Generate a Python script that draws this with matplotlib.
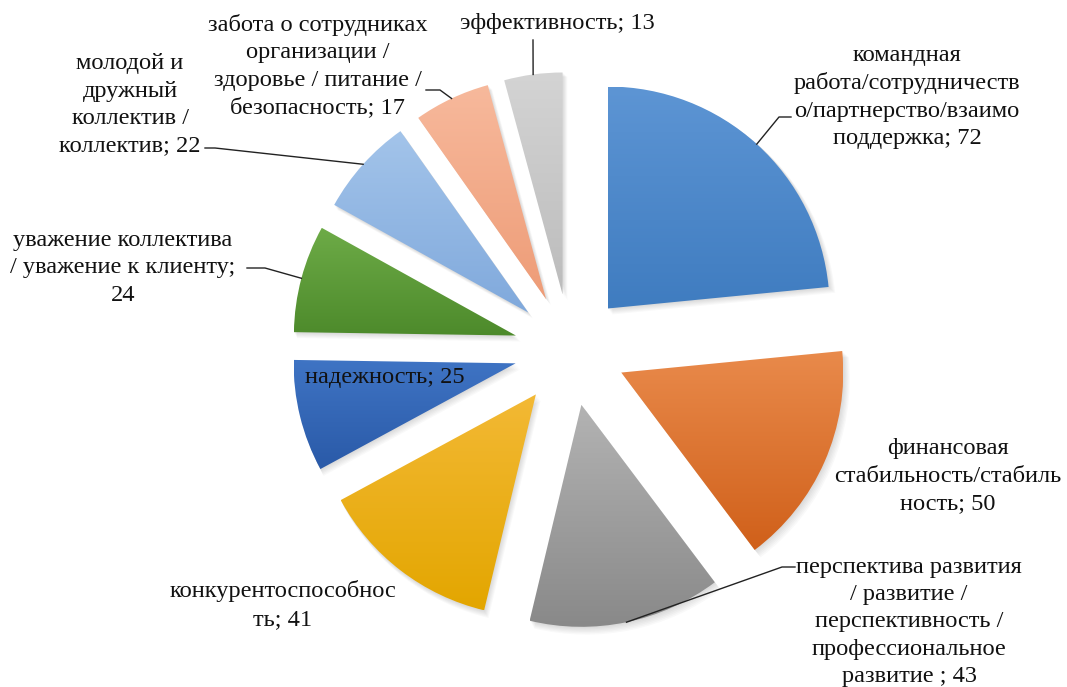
import numpy as np
import matplotlib.pyplot as plt
from matplotlib.patches import Wedge
from matplotlib.colors import LinearSegmentedColormap

plt.rcParams['font.family'] = ['Liberation Serif', 'DejaVu Serif']

W, H = 1067, 687

labels = [
    "командная\nработа/сотрудничеств\nо/партнерство/взаимо\nподдержка; 72",
    "финансовая\nстабильность/стабиль\nность; 50",
    "перспектива развития\n/ развитие /\nперспективность /\nпрофессиональное\nразвитие ; 43",
    "конкурентоспособнос\nть; 41",
    "надежность; 25",
    "уважение коллектива\n/ уважение к клиенту;\n24",
    "молодой и\nдружный\nколлектив /\nколлектив; 22",
    "забота о сотрудниках\nорганизации /\nздоровье / питание /\nбезопасность; 17",
    "эффективность; 13",
]
values = [72, 50, 43, 41, 25, 24, 22, 17, 13]

# gradient ends for each slice: top (lighter) and bottom (darker)
top_colors = ["#5d95d4", "#e98a4b", "#b3b3b3", "#f3b935", "#3f74c4",
              "#6dab47", "#a3c4ea", "#f7b99c", "#d4d4d4"]
bottom_colors = ["#3f7cc0", "#d0601a", "#898989", "#e3a600", "#2a5aa8",
                 "#4d8a2b", "#80a9dc", "#ee9c77", "#bcbcbc"]

# label block centre (pixels from top-left) and leader elbow / end points
label_pos = [(907, 97), (948, 476), (909, 622), (283, 605), (385, 377),
             (123, 268), (130, 105), (318, 66), (557, 24)]
leaders = {
    0: [(779, 117), (791, 117)],
    2: [(782, 567), (795, 567)],
    5: [(265, 268), (247, 268)],
    6: [(215, 148), (205, 148)],
    7: [(440, 90), (426, 90)],
    8: [(533, 40)],
}


def px(x, y):
    return x, H - y


fig = plt.figure(figsize=(W / 100, H / 100), dpi=100)
ax = fig.add_axes([0, 0, 1, 1])

center = px(570, 350)
radius = 222
wedges, _ = ax.pie(values, center=center, radius=radius, startangle=90,
                   counterclock=False, explode=[56] * len(values),
                   wedgeprops=dict(linewidth=0))

for i, w in enumerate(wedges):
    w.set_facecolor("none")
    # soft drop shadow under each slice
    for k in range(1, 7):
        sh = Wedge((w.center[0] + 0.8 * k, w.center[1] - 1.0 * k), w.r + 0.3 * k,
                   w.theta1, w.theta2, facecolor="black", alpha=0.025,
                   linewidth=0, zorder=0.5)
        ax.add_patch(sh)
    x0, y0, x1, y1 = w.get_path().get_extents().extents
    cmap = LinearSegmentedColormap.from_list("g%d" % i, [bottom_colors[i], top_colors[i]])
    grad = np.linspace(0, 1, 256).reshape(-1, 1)
    im = ax.imshow(grad, cmap=cmap, extent=[x0, x1, y0, y1], origin="lower",
                   aspect="auto", zorder=1, interpolation="bilinear")
    im.set_clip_path(w)

    tx, ty = px(*label_pos[i])
    ax.text(tx, ty, labels[i], ha="center", va="center", multialignment="center",
            fontsize=17.6, color="#111111", zorder=3, linespacing=1.4)

    if i in leaders:
        tm = np.deg2rad((w.theta1 + w.theta2) / 2)
        sx = w.center[0] + w.r * np.cos(tm)
        sy = w.center[1] + w.r * np.sin(tm)
        pts = [(sx, sy)] + [px(*p) for p in leaders[i]]
        xs, ys = zip(*pts)
        ax.plot(xs, ys, color="#222222", lw=1.0, zorder=2)

ax.set_xlim(0, W)
ax.set_ylim(0, H)
ax.set_aspect("auto")
ax.axis("off")

fig.savefig("out.png", dpi=100)
